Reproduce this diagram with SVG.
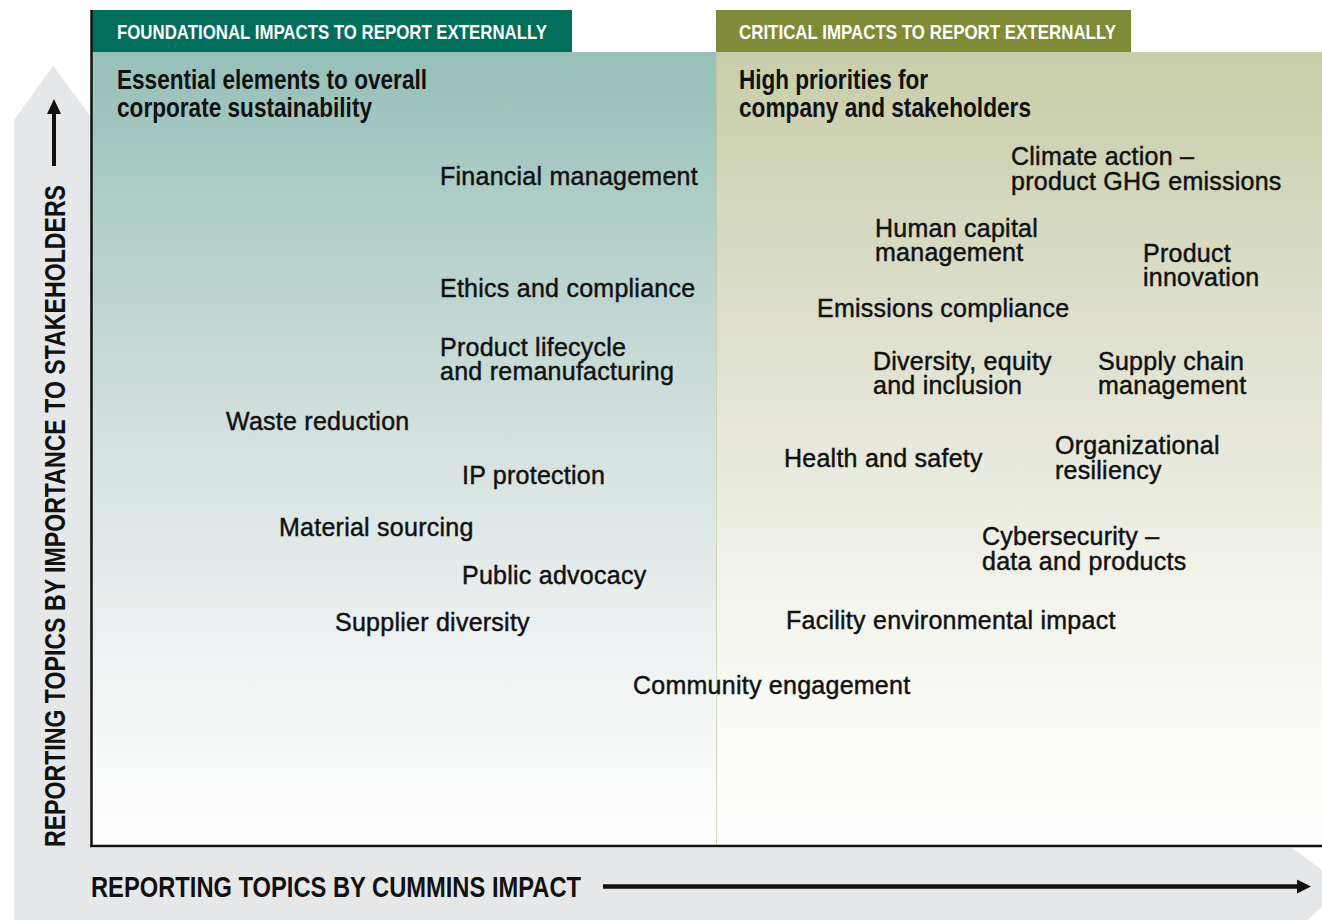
<svg xmlns="http://www.w3.org/2000/svg" width="1322" height="920" viewBox="0 0 1322 920">
<defs>
<linearGradient id="gL" x1="0" y1="0" x2="0" y2="1">
<stop offset="0" stop-color="#96c0b8"/>
<stop offset="0.46" stop-color="#d0dfdc"/>
<stop offset="0.7" stop-color="#eaeeee"/>
<stop offset="1" stop-color="#ffffff"/>
</linearGradient>
<linearGradient id="gR" x1="0" y1="0" x2="0" y2="1">
<stop offset="0" stop-color="#c8cda9"/>
<stop offset="0.46" stop-color="#e5e6d8"/>
<stop offset="0.7" stop-color="#f4f4ee"/>
<stop offset="1" stop-color="#ffffff"/>
</linearGradient>
<style>
.lbl{font-family:"Liberation Sans",Arial,sans-serif;font-size:25px;letter-spacing:0.25px;fill:#111;stroke:#111;stroke-width:0.45px;}
.cond{font-family:"Liberation Sans Narrow","Liberation Sans",Arial,sans-serif;font-weight:bold;}
.hdr{font-size:21px;fill:#ffffff;}
.sub{font-size:27px;fill:#111;}
.axis{font-size:29px;fill:#111;}
</style>
</defs>
<rect width="1322" height="920" fill="#ffffff"/>
<!-- gray axis backdrop -->
<polygon points="14,120 53,66 92,118 92,848 1292,848 1346,887 1300,926 14,926" fill="#e6e7e9"/>
<!-- panels -->
<rect x="92" y="52" width="624" height="794" fill="url(#gL)"/>
<rect x="716" y="52" width="606" height="794" fill="url(#gR)"/>
<line x1="716.5" y1="52" x2="716.5" y2="846" stroke="#b9c39a" stroke-width="1" opacity="0.6"/>
<!-- headers -->
<g id="hdr-foundational">
<rect x="92" y="10" width="480" height="42" fill="#006e5a"/>
<text class="cond hdr" x="117" y="39" textLength="430" lengthAdjust="spacingAndGlyphs">FOUNDATIONAL IMPACTS TO REPORT EXTERNALLY</text>
</g>
<g id="hdr-critical">
<rect x="716" y="10" width="415" height="42" fill="#7f8b37"/>
<text class="cond hdr" x="739" y="39" textLength="377" lengthAdjust="spacingAndGlyphs">CRITICAL IMPACTS TO REPORT EXTERNALLY</text>
</g>
<g id="sub-foundational">
<text class="cond sub" x="117" y="89" textLength="310" lengthAdjust="spacingAndGlyphs">Essential elements to overall</text>
<text class="cond sub" x="117" y="117" textLength="255" lengthAdjust="spacingAndGlyphs">corporate sustainability</text>
</g>
<g id="sub-critical">
<text class="cond sub" x="739" y="89" textLength="189" lengthAdjust="spacingAndGlyphs">High priorities for</text>
<text class="cond sub" x="739" y="117" textLength="292" lengthAdjust="spacingAndGlyphs">company and stakeholders</text>
</g>
<!-- chart frame -->
<g id="frame" stroke="#111" stroke-width="2.5" fill="none">
<line x1="91.5" y1="10" x2="91.5" y2="847"/>
<line x1="90" y1="846" x2="1322" y2="846"/>
</g>
<!-- axes -->
<g id="axes">
<line x1="54" y1="166" x2="54" y2="110" stroke="#111" stroke-width="4"/>
<polygon points="47,114 54,99 61,114" fill="#111"/>
<line x1="603" y1="886.5" x2="1300" y2="886.5" stroke="#111" stroke-width="4.5"/>
<polygon points="1297,879.5 1311,886.5 1297,893.5" fill="#111"/>
<text class="cond axis" x="91" y="897" textLength="490" lengthAdjust="spacingAndGlyphs">REPORTING TOPICS BY CUMMINS IMPACT</text>
<text class="cond axis" transform="translate(65,847) rotate(-90)" x="0" y="0" textLength="662" lengthAdjust="spacingAndGlyphs">REPORTING TOPICS BY IMPORTANCE TO STAKEHOLDERS</text>
</g>
<!-- topics -->
<g id="n-financial"><text class="lbl" x="440" y="185">Financial management</text></g>
<g id="n-ethics"><text class="lbl" x="440" y="297">Ethics and compliance</text></g>
<g id="n-lifecycle"><text class="lbl" x="440" y="356">Product lifecycle</text><text class="lbl" x="440" y="380">and remanufacturing</text></g>
<g id="n-waste"><text class="lbl" x="226" y="430">Waste reduction</text></g>
<g id="n-ip"><text class="lbl" x="462" y="484">IP protection</text></g>
<g id="n-material"><text class="lbl" x="279" y="536">Material sourcing</text></g>
<g id="n-advocacy"><text class="lbl" x="462" y="584">Public advocacy</text></g>
<g id="n-supplier"><text class="lbl" x="335" y="631">Supplier diversity</text></g>
<g id="n-community"><text class="lbl" x="633" y="694">Community engagement</text></g>
<g id="n-climate"><text class="lbl" x="1011" y="165">Climate action –</text><text class="lbl" x="1011" y="190">product GHG emissions</text></g>
<g id="n-human"><text class="lbl" x="875" y="237">Human capital</text><text class="lbl" x="875" y="261">management</text></g>
<g id="n-innovation"><text class="lbl" x="1143" y="262">Product</text><text class="lbl" x="1143" y="286">innovation</text></g>
<g id="n-emissions"><text class="lbl" x="817" y="317">Emissions compliance</text></g>
<g id="n-dei"><text class="lbl" x="873" y="370">Diversity, equity</text><text class="lbl" x="873" y="394">and inclusion</text></g>
<g id="n-supply"><text class="lbl" x="1098" y="370">Supply chain</text><text class="lbl" x="1098" y="394">management</text></g>
<g id="n-health"><text class="lbl" x="784" y="467">Health and safety</text></g>
<g id="n-resiliency"><text class="lbl" x="1055" y="454">Organizational</text><text class="lbl" x="1055" y="479">resiliency</text></g>
<g id="n-cyber"><text class="lbl" x="982" y="545">Cybersecurity –</text><text class="lbl" x="982" y="570">data and products</text></g>
<g id="n-facility"><text class="lbl" x="786" y="629">Facility environmental impact</text></g>
</svg>
